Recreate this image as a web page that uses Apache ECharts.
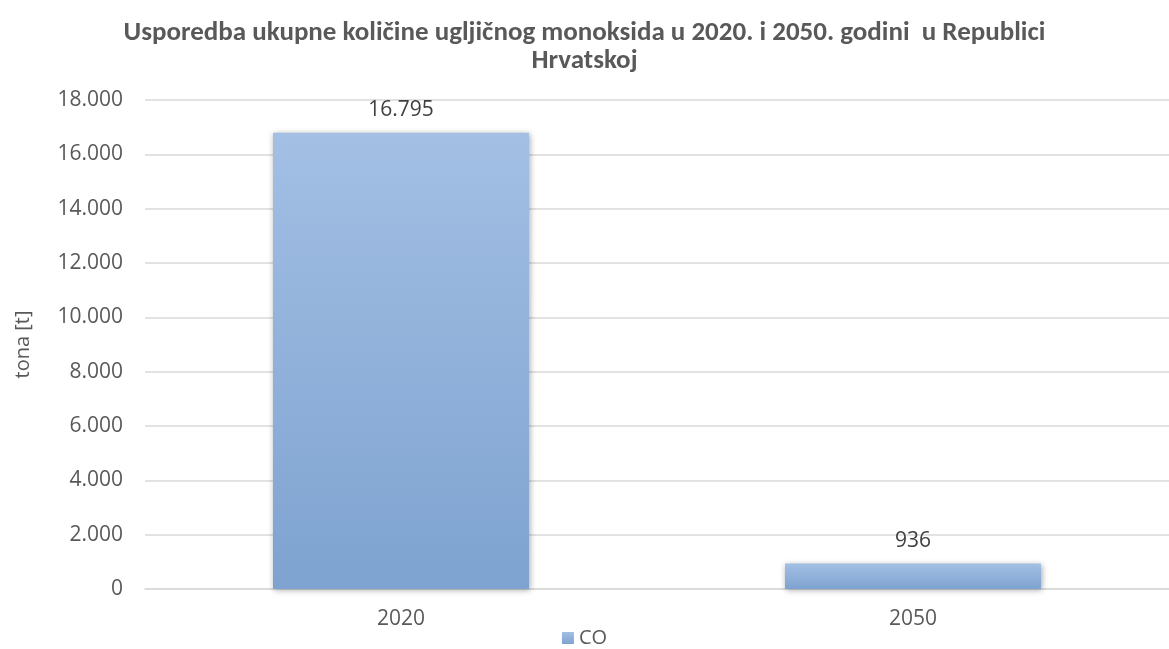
<!DOCTYPE html>
<html>
<head>
<meta charset="utf-8">
<script src="https://cdn.jsdelivr.net/npm/echarts@6/dist/echarts.min.js"></script>
<style>
html, body { margin: 0; padding: 0; background: #fff; }
#chart { width: 1169px; height: 649px; }
</style>
</head>
<body>
<div id="chart"></div>
<script>
var categories = ['2020', '2050'];
var coValues = [16795, 936];
var seriesName = 'CO';
var yTicks = [0, 2000, 4000, 6000, 8000, 10000, 12000, 14000, 16000, 18000];

function fmt(v) {
	// hrvatski zapis tisućica s točkom
	return String(v).replace(/\B(?=(\d{3})+(?!\d))/g, '.');
}

var titleFont = "Carlito, Lato, sans-serif";
var fontFam = "'Open Sans', 'Noto Sans', sans-serif";
var chart = echarts.init(document.getElementById('chart'));
var option = {
	animation: false,
	title: {
		text: 'Usporedba ukupne količine ugljičnog monoksida u 2020. i 2050. godini  u Republici\nHrvatskoj',
		left: 'center',
		top: 14,
		textStyle: {
			color: '#595959',
			fontFamily: titleFont,
			fontSize: 27,
			fontWeight: 'bold',
			lineHeight: 28
		}
	},
	legend: {
		top: 623,
		left: 'center',
		itemWidth: 12,
		itemHeight: 12,
		itemGap: 5,
		icon: 'rect',
		textStyle: { color: '#595959', fontFamily: fontFam, fontSize: 20 },
		data: [seriesName]
	},
	grid: {
		left: 145,
		width: 1032,
		top: 100,
		height: 489,
		containLabel: false
	},
	xAxis: {
		type: 'category',
		data: categories,
		axisLine: { lineStyle: { color: '#d9d9d9', width: 1.5 } },
		axisTick: { show: false },
		axisLabel: { color: '#595959', fontFamily: fontFam, fontSize: 21, margin: 20 }
	},
	yAxis: {
		type: 'value',
		min: yTicks[0],
		max: yTicks[yTicks.length - 1],
		interval: 2000,
		name: 'tona [t]',
		nameLocation: 'middle',
		nameGap: 112,
		nameRotate: 90,
		nameTextStyle: { color: '#595959', fontFamily: fontFam, fontSize: 20 },
		axisLine: { show: false },
		axisTick: { show: false },
		splitLine: { lineStyle: { color: '#d9d9d9', width: 1.5 } },
		axisLabel: {
			color: '#595959',
			fontFamily: fontFam,
			fontSize: 21,
			margin: 22,
			formatter: function (v) { return fmt(v); }
		}
	},
	series: [{
		name: seriesName,
		type: 'bar',
		barWidth: '50%',
		data: coValues,
		itemStyle: {
			color: new echarts.graphic.LinearGradient(0, 0, 0, 1, [
				{ offset: 0, color: '#a3bfe4' },
				{ offset: 1, color: '#7ea3d0' }
			]),
			shadowColor: 'rgba(0,0,0,0.35)',
			shadowBlur: 6,
			shadowOffsetX: 1,
			shadowOffsetY: 1
		},
		label: {
			show: true,
			position: 'top',
			distance: 12,
			color: '#404040',
			fontFamily: fontFam,
			fontSize: 21,
			formatter: function (p) { return fmt(p.value); }
		}
	}]
};
chart.setOption(option);
</script>
</body>
</html>
